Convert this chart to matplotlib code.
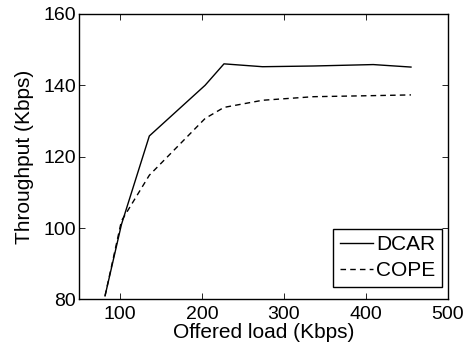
import matplotlib
matplotlib.use("Agg")
import matplotlib.pyplot as plt

plt.rcParams['font.family'] = ['Liberation Sans', 'DejaVu Sans']

load = [82, 102, 136, 204, 227, 274, 336, 409, 455]
dcar = [81.0, 101.0, 125.8, 140.0, 146.0, 145.2, 145.4, 145.8, 145.1]
cope = [81.0, 102.0, 114.8, 130.7, 133.8, 135.8, 136.8, 137.1, 137.3]

fig = plt.figure(figsize=(4.69, 3.47), dpi=100)
ax = fig.add_axes([0.168, 0.137, 0.787, 0.823])

ax.plot(load, dcar, 'k-', linewidth=1.0, label='DCAR')
ax.plot(load, cope, 'k--', linewidth=1.0, dashes=(4, 3), label='COPE')

ax.set_xlim(50, 500)
ax.set_ylim(80, 160)
ax.set_xticks([100, 200, 300, 400, 500])
ax.set_yticks([80, 100, 120, 140, 160])
ax.tick_params(direction='in', top=True, right=True, labelsize=14, length=4, width=0.6)
ax.tick_params(axis='x', pad=5)
ax.tick_params(axis='y', pad=2)
for s in ax.spines.values():
    s.set_linewidth(1.0)

ax.set_xlabel('Offered load (Kbps)', fontsize=15, labelpad=0)
ax.set_ylabel('Throughput (Kbps)', fontsize=15, labelpad=7)

leg = ax.legend(loc='lower right', bbox_to_anchor=(0.983, 0.045), fontsize=15,
                fancybox=False, framealpha=1, edgecolor='black',
                handlelength=1.6, handletextpad=0.15, borderpad=0.3,
                labelspacing=0.35, borderaxespad=0)
leg.get_frame().set_linewidth(1.0)

fig.savefig('out.png', dpi=100)
